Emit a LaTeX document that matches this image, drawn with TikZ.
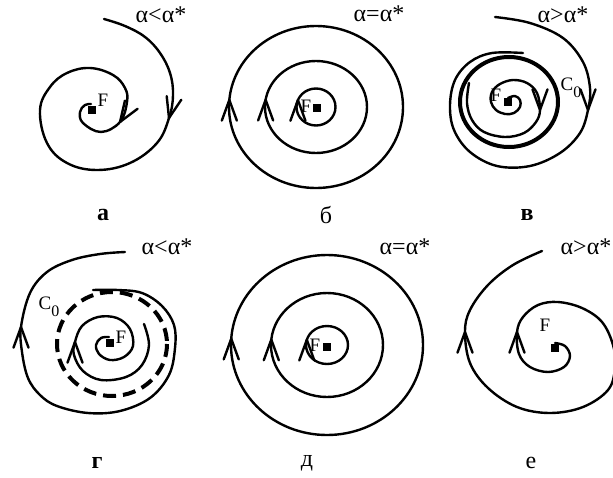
\documentclass[tikz,border=0pt]{standalone}
\usepackage{fontspec}
\setmainfont{Liberation Serif}
\usetikzlibrary{calc}
\tikzset{
  trajectory/.style={
    line width=2.4pt,
    line cap=round,
    line join=round
  },
  limitcycle/.style={
    line width=4pt
  },
  unstablecycle/.style={
    line width=4pt,
    dash pattern=on 13pt off 7pt
  },
  focus/.style={
    rectangle,
    fill=black,
    minimum size=7.5pt,
    inner sep=0pt
  },
  pointlabel/.style={
    font=\fontsize{19}{21}\selectfont,
    inner sep=0pt
  },
  regime/.style={
    font=\fontsize{24}{26}\selectfont,
    inner sep=0pt
  },
  panel/.style={
    font=\fontsize{24}{26}\selectfont,
    inner sep=0pt
  }
}
% open arrowhead: #1 tip coordinate, #2 direction (screen angle)
\newcommand{\chevron}[2]{%
  \draw[trajectory] ($(#1)+({#2+160}:22)$) -- (#1) -- ($(#1)+({#2-160}:22)$);%
}
\newcommand{\cnought}{C\raisebox{-0.35em}{\fontsize{16}{18}\selectfont 0}}

\begin{document}
\begin{tikzpicture}[x=1pt, y=-1pt]
  \useasboundingbox (0,0) rectangle (613,477);

  % a: stable focus, alpha < alpha*
  \node[regime] (a-reg) at (161,15) {α<α*};
  \node[focus] (Fa) at (92,110) {};
  \node[pointlabel] (Fa-lbl) at (103,100) {F};
  \draw[trajectory] plot[smooth, tension=0.65] coordinates {
    (104,19) (125,26) (145,37) (160,53) (170,73) (173,95) (169,118)
    (157,143) (130,163) (97,170) (67,163) (47,143) (40,110) (50,87)
    (67,73) (90,68) (113,75) (125,88) (127,102) (120,122) (101,132)
    (83,123) (80,112) (85,105) (91,104)};
  \coordinate (a-tip1) at (169,118);
  \coordinate (a-tip2) at (120,122);
  \chevron{a-tip1}{104}
  \chevron{a-tip2}{123}
  \node[panel] (a-pan) at (103,215) {\bfseries а};

  % b: centre, alpha = alpha*
  \node[regime] (b-reg) at (379,14) {α=α*};
  \coordinate (Bc) at (316,107);
  \draw[trajectory] (Bc) ellipse [x radius=87, y radius=81];
  \draw[trajectory] (Bc) ellipse [x radius=51, y radius=46];
  \draw[trajectory] (Bc) ellipse [x radius=19.5, y radius=18.5];
  \node[focus] (Fb) at (317,108) {};
  \node[pointlabel] (Fb-lbl) at (306,106) {F};
  \coordinate (b-tip1) at ($(Bc)+(185:87 and 81)$);
  \coordinate (b-tip2) at ($(Bc)+(189:51 and 46)$);
  \coordinate (b-tip3) at ($(Bc)+(202:19.5 and 18.5)$);
  \chevron{b-tip1}{-90}
  \chevron{b-tip2}{-90}
  \chevron{b-tip3}{-90}
  \node[panel] (b-pan) at (326,215) {б};

  % v: stable cycle C0, alpha > alpha*
  \node[regime] (v-reg) at (563,15) {α>α*};
  \coordinate (Vc) at (509,102);
  \draw[limitcycle] (Vc) ellipse [x radius=49, y radius=45];
  \draw[trajectory] plot[smooth, tension=0.6] coordinates {
    (495,17) (530,23) (563,38) (583,62) (590,88) (588,110) (580,133)
    (560,153) (530,166) (497,166) (470,152) (454,130) (450,105)
    (455,80) (470,62) (492,53) (523,53)};
  \draw[trajectory] plot[smooth, tension=0.6] coordinates {
    (508,98) (515,96) (520,100) (520,107) (514,113) (505,114) (496,110)
    (491,102) (492,92) (500,84) (513,80) (527,83) (537,93) (540,110)
    (536,122) (524,133) (505,137) (484,132) (472,120) (467,103) (469,83)};
  \node[focus] (Fv) at (508,102) {};
  \node[pointlabel] (Fv-lbl) at (496,95) {F};
  \node[pointlabel] (Cv-lbl) at (571,88) {\cnought};
  \coordinate (v-tip1) at (588,110);
  \coordinate (v-tip2) at (540,110);
  \chevron{v-tip1}{90}
  \chevron{v-tip2}{90}
  \node[panel] (v-pan) at (527,215) {\bfseries в};

  % g: unstable cycle C0, alpha < alpha*
  \node[regime] (g-reg) at (167,247) {α<α*};
  \coordinate (Gc) at (112,344);
  \draw[unstablecycle] (Gc) ellipse [x radius=55, y radius=52];
  \draw[trajectory] plot[smooth, tension=0.6] coordinates {
    (93,290) (118,290) (142,293) (162,306) (174,325) (175,348) (169,375)
    (150,398) (120,411) (88,413) (57,406) (40,395) (28,378) (22,352)
    (21,327) (30,293) (47,272) (72,260) (100,254) (125,252)};
  \draw[trajectory] plot[smooth, tension=0.6] coordinates {
    (144,324) (149,345) (142,365) (126,377) (101,380) (83,371) (74,355)
    (75,342) (82,326) (98,317) (117,318) (130,329) (133,346) (124,357)
    (110,360) (99,354) (96,345) (101,338) (109,337)};
  \node[focus] (Fg) at (110,343) {};
  \node[pointlabel] (Fg-lbl) at (121,337) {F};
  \node[pointlabel] (Cg-lbl) at (49,307) {\cnought};
  \coordinate (g-tip1) at (21,327);
  \coordinate (g-tip2) at (75,342);
  \chevron{g-tip1}{-90}
  \chevron{g-tip2}{-90}
  \node[panel] (g-pan) at (97,463) {\bfseries г};

  % d: centre, alpha = alpha*
  \node[regime] (d-reg) at (405,247) {α=α*};
  \coordinate (Dc) at (327,345);
  \draw[trajectory] (Dc) ellipse [x radius=96, y radius=90];
  \draw[trajectory] (Dc) ellipse [x radius=56, y radius=52];
  \draw[trajectory] (Dc) ellipse [x radius=21, y radius=19];
  \node[focus] (Fd) at (327,347) {};
  \node[pointlabel] (Fd-lbl) at (315,345) {F};
  \coordinate (d-tip1) at ($(Dc)+(184:96 and 90)$);
  \coordinate (d-tip2) at ($(Dc)+(186:56 and 52)$);
  \coordinate (d-tip3) at ($(Dc)+(196:21 and 19)$);
  \chevron{d-tip1}{-90}
  \chevron{d-tip2}{-90}
  \chevron{d-tip3}{-90}
  \node[panel] (d-pan) at (307,463) {д};

  % e: unstable focus, alpha > alpha*
  \node[regime] (e-reg) at (586,247) {α>α*};
  \draw[trajectory] plot[smooth, tension=0.6] coordinates {
    (555,343) (565,346) (570,356) (564,367) (548,372) (530,367) (519,354)
    (517,332) (523,317) (538,305) (558,302) (582,308) (602,322) (613,345)
    (615,368) (608,390) (583,407) (550,413) (517,407) (488,388) (470,363)
    (465,332) (470,310) (488,285) (513,265) (542,251)};
  \node[focus] (Fe) at (555,348) {};
  \node[pointlabel] (Fe-lbl) at (545,325) {F};
  \coordinate (e-tip1) at (465,332);
  \coordinate (e-tip2) at (517,332);
  \chevron{e-tip1}{-90}
  \chevron{e-tip2}{-90}
  \node[panel] (e-pan) at (531,463) {е};
\end{tikzpicture}
\end{document}
